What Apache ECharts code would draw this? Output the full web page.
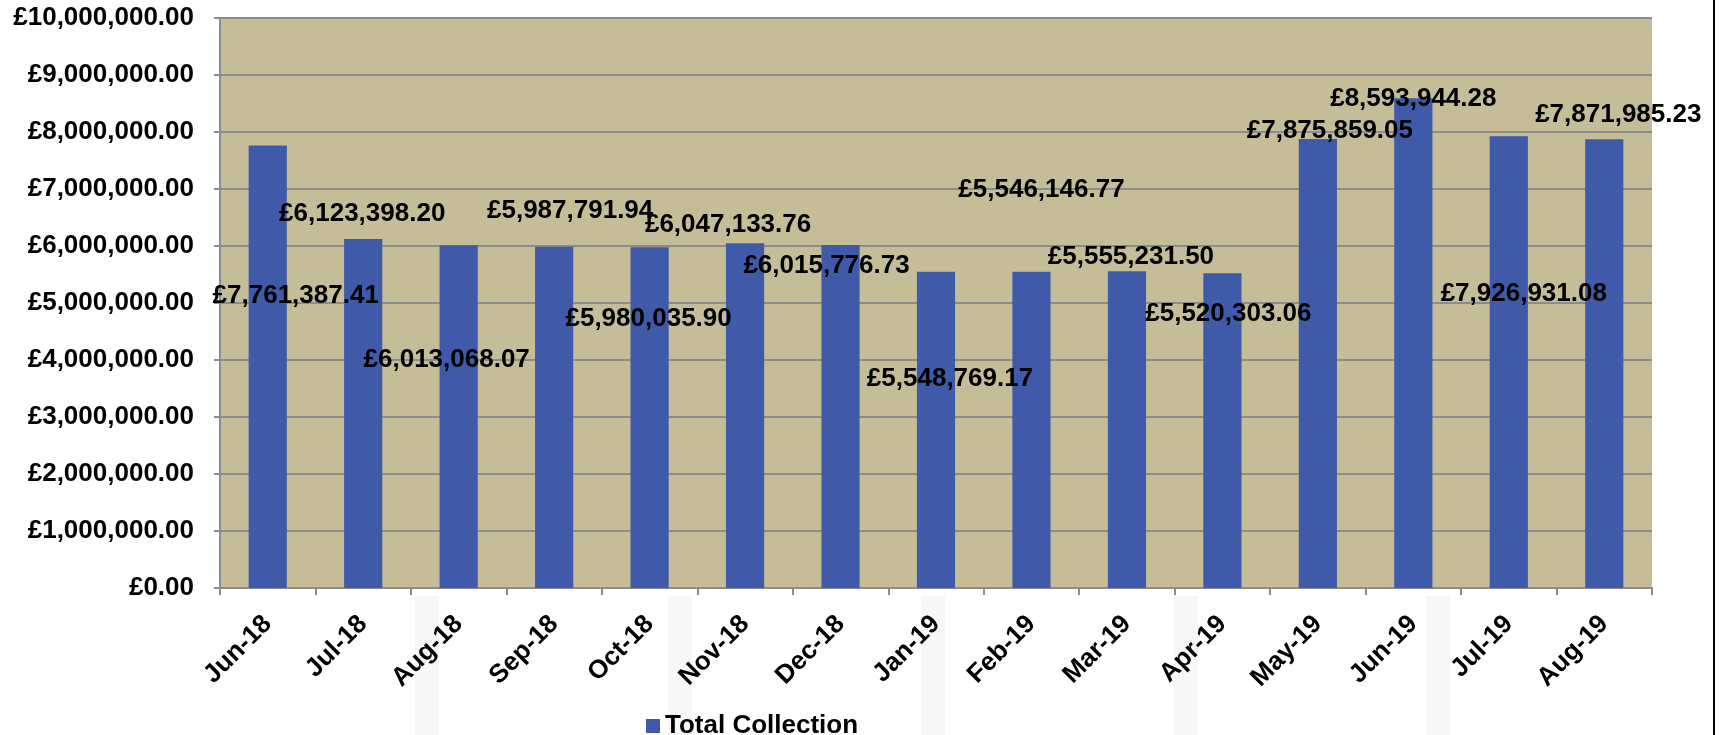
<!DOCTYPE html>
<html>
<head>
<meta charset="utf-8">
<script src="https://cdn.jsdelivr.net/npm/echarts@6/dist/echarts.min.js"></script>
<style>
html,body{margin:0;padding:0;background:#fff;}
#chart{width:1723px;height:735px;}
</style>
</head>
<body>
<div id="chart"></div>
<script>
const categories = ['Jun-18','Jul-18','Aug-18','Sep-18','Oct-18','Nov-18','Dec-18','Jan-19','Feb-19','Mar-19','Apr-19','May-19','Jun-19','Jul-19','Aug-19'];
const totalCollection = [7761387.41, 6123398.20, 6013068.07, 5987791.94, 5980035.90, 6047133.76, 6015776.73, 5548769.17, 5546146.77, 5555231.50, 5520303.06, 7875859.05, 8593944.28, 7926931.08, 7871985.23];
const seriesName = 'Total Collection';
const yMin = 0, yMax = 10000000, yStep = 1000000;

// label placement (pixel offsets from bar top centre), layout only
const labelOffsets = [[28,150],[-1,-25],[-12,115],[16,-36],[-1,72],[-17,-18],[-14,21],[14,107],[10,-82],[4,-15],[6,40],[12,-8],[0,1],[15,158],[14,-24]];
// faint background bands of the slide, layout only
const bandXs = [415, 668, 921, 1174, 1426];

function money(v){
  const neg = v < 0; v = Math.abs(v);
  const s = v.toFixed(2);
  const parts = s.split('.');
  const int = parts[0].replace(/\B(?=(\d{3})+(?!\d))/g, ',');
  return (neg?'-':'') + '£' + int + '.' + parts[1];
}

const FONT = '"Liberation Sans", Arial, sans-serif';
const chart = echarts.init(document.getElementById('chart'), null, {renderer:'canvas'});

const graphics = bandXs.map(function(x){
  return {type:'rect', shape:{x:x, y:596, width:24, height:139}, style:{fill:'#f7f7f7'}, z:-10, silent:true};
});
graphics.push({type:'rect', shape:{x:1713, y:0, width:2, height:735}, style:{fill:'#000'}, z:100});

chart.setOption({
  animation:false,
  backgroundColor:'#ffffff',
  grid:{left:220, right:71, top:18, bottom:147, show:true, backgroundColor:'#c4bd97', borderWidth:0, containLabel:false},
  legend:{
    data:[seriesName], left:641, top:708, icon:'rect', itemWidth:14, itemHeight:14,
    textStyle:{fontFamily:FONT, fontWeight:'bold', fontSize:26, color:'#000'}
  },
  xAxis:{
    type:'category', data:categories, boundaryGap:true,
    axisLine:{show:true, lineStyle:{color:'#8c8c8c', width:2}},
    axisTick:{show:true, length:7, lineStyle:{color:'#8c8c8c', width:2}},
    axisLabel:{rotate:45, margin:32, interval:0, fontFamily:FONT, fontWeight:'bold', fontSize:26, color:'#000'},
    splitLine:{show:false}
  },
  yAxis:{
    type:'value', min:yMin, max:yMax, interval:yStep,
    axisLine:{show:true, lineStyle:{color:'#8c8c8c', width:2}},
    axisTick:{show:true, length:6, lineStyle:{color:'#8c8c8c', width:2}},
    axisLabel:{margin:26, formatter:function(v){return money(v);}, fontFamily:FONT, fontWeight:'bold', fontSize:26, color:'#000'},
    splitLine:{show:true, lineStyle:{color:'#8c8c8c', width:2}}
  },
  graphic:graphics,
  series:[{
    name:seriesName, type:'bar', barCategoryGap:'60%',
    itemStyle:{color:'#3f5aa9'},
    data: totalCollection.map(function(v,i){
      return {value:v, label:{offset:labelOffsets[i]}};
    }),
    label:{
      show:true, position:'top', distance:0, verticalAlign:'middle', align:'center',
      formatter:function(p){return money(p.value);},
      fontFamily:FONT, fontWeight:'bold', fontSize:26, color:'#000'
    },
    z:3
  }]
});
</script>
</body>
</html>
